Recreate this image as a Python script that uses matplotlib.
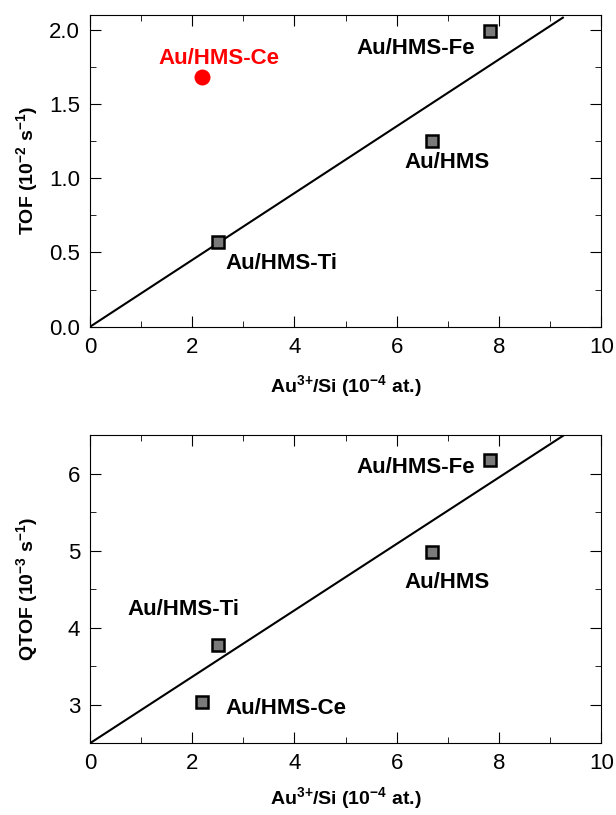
import numpy as np
import matplotlib as mpl
mpl.use('Agg')
import matplotlib.pyplot as plt
from matplotlib.ticker import MultipleLocator, FormatStrFormatter

plt.rcParams['font.family'] = ['Liberation Sans', 'DejaVu Sans']
plt.rcParams['mathtext.fontset'] = 'custom'
plt.rcParams['mathtext.rm'] = 'Liberation Sans:bold'
plt.rcParams['mathtext.bf'] = 'Liberation Sans:bold'
plt.rcParams['mathtext.it'] = 'Liberation Sans:bold'
plt.rcParams['mathtext.default'] = 'rm'

# top panel: TOF vs Au3+/Si
names_top = ["Au/HMS-Fe", "Au/HMS", "Au/HMS-Ti"]
x_top = [7.82, 6.69, 2.50]
tof = [1.99, 1.25, 0.57]
ce_x = 2.20
ce_tof = 1.68
fit_top_x = [0.0, 9.25]
fit_top_y = [0.0, 2.08]

# bottom panel: QTOF vs Au3+/Si
names_bot = ["Au/HMS-Fe", "Au/HMS", "Au/HMS-Ti", "Au/HMS-Ce"]
x_bot = [7.82, 6.69, 2.50, 2.20]
qtof = [6.18, 4.99, 3.78, 3.04]
fit_bot_x = [0.0, 9.27]
fit_bot_y = [2.5, 6.5]

fig = plt.figure(figsize=(6.16, 8.15), dpi=100)
ax1 = fig.add_axes([0.146, 0.599, 0.830, 0.383])
ax2 = fig.add_axes([0.146, 0.088, 0.830, 0.378])

def style(ax, pad):
    ax.set_xlim(0, 10)
    ax.xaxis.set_major_locator(MultipleLocator(2))
    ax.xaxis.set_minor_locator(MultipleLocator(1))
    ax.tick_params(which='both', direction='in', top=True, right=True,
                   labelsize=16, pad=7)
    ax.tick_params(which='major', length=8)
    ax.tick_params(which='minor', length=4)
    ax.set_xlabel(r"Au$^{3\!+}\!$/Si (10$^{-4}$ at.)", fontsize=14,
                  fontweight='bold', labelpad=pad)
    ax.yaxis.set_label_coords(-0.097, 0.45)

# top
ax1.plot(fit_top_x, fit_top_y, color='black', lw=1.5, zorder=1)
ax1.plot(x_top, tof, 's', ms=8, mfc='#7a7a7a', mec='black', mew=1.8, zorder=3)
ax1.plot(ce_x, ce_tof, 'o', ms=11.5, color='red', mew=0, zorder=3)
ax1.set_ylim(0, 2.1)
ax1.yaxis.set_major_locator(MultipleLocator(0.5))
ax1.yaxis.set_minor_locator(MultipleLocator(0.25))
ax1.yaxis.set_major_formatter(FormatStrFormatter('%.1f'))
style(ax1, 11)
ax1.set_ylabel("TOF (10$^{-2}$ s$^{-1}$)", fontsize=14, fontweight='bold')

kw = dict(fontsize=16, fontweight='bold', va='baseline')
ax1.text(5.21, 1.838, names_top[0], **kw)
ax1.text(6.15, 1.071, names_top[1], **kw)
ax1.text(2.65, 0.391, names_top[2], **kw)
ax1.text(1.34, 1.771, "Au/HMS-Ce", color='red', **kw)

# bottom
ax2.plot(fit_bot_x, fit_bot_y, color='black', lw=1.5, zorder=1)
ax2.plot(x_bot, qtof, 's', ms=8, mfc='#7a7a7a', mec='black', mew=1.8, zorder=3)
ax2.set_ylim(2.5, 6.5)
ax2.yaxis.set_major_locator(MultipleLocator(1))
ax2.yaxis.set_minor_locator(MultipleLocator(0.5))
style(ax2, 8)
ax2.set_ylabel("QTOF (10$^{-3}$ s$^{-1}$)", fontsize=14, fontweight='bold')

ax2.text(5.21, 6.014, names_bot[0], **kw)
ax2.text(6.15, 4.51, names_bot[1], **kw)
ax2.text(0.74, 4.16, names_bot[2], **kw)
ax2.text(2.65, 2.88, names_bot[3], **kw)

fig.savefig('out.png', dpi=100)
